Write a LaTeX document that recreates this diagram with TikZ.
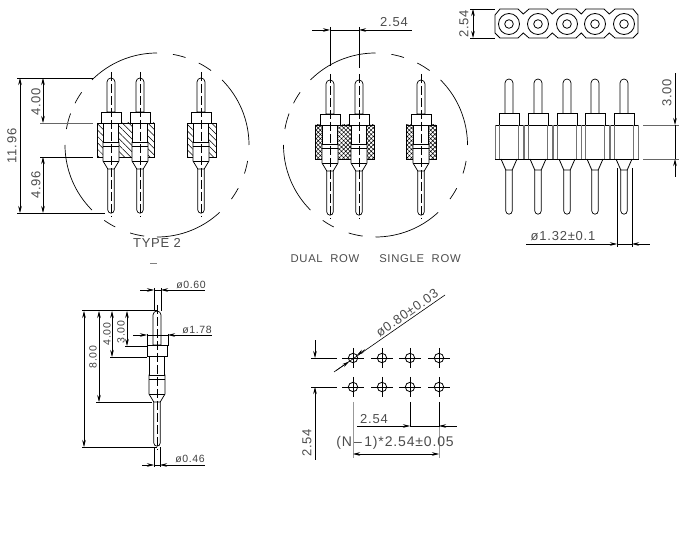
\documentclass[tikz,border=0pt]{standalone}
\usepackage{fontspec}
\setmainfont{Liberation Sans}
\newfontfamily\cadfont[LetterSpace=6]{Liberation Sans}
\usetikzlibrary{patterns.meta}
\usetikzlibrary{arrows.meta}

\tikzset{
  part/.style={line width=0.7pt, fill=white},
  housing/.style={line width=0.8pt},
  slanted/.style={pattern={Lines[angle=135, distance=4.5pt, line width=0.5pt]}},
  crossed/.style={pattern={Hatch[angle=45, distance=3pt, line width=0.5pt]}},
  axisline/.style={line width=0.5pt, dash pattern=on 9pt off 3pt},
  extline/.style={line width=0.6pt},
  dimline/.style={line width=0.6pt, >={Stealth[length=7pt,width=3.5pt]}},
  bigtext/.style={font=\cadfont\fontsize{13}{13}\selectfont, text=black!70, inner sep=0pt},
  rowtext/.style={font=\cadfont\fontsize{11.3}{12}\selectfont, text=black!70, inner sep=0pt},
  smalltext/.style={font=\cadfont\fontsize{10.5}{11}\selectfont, text=black!75, inner sep=0pt}
}

% side view of one pin, #1 = axis x, #2 = tip y
\newcommand{\sidepin}[2]{
  \begin{scope}[shift={(#1,#2)}]
    \draw[part] (-4,34) -- (-4,4) arc[start angle=180, end angle=0, radius=4pt] -- (4,34) -- cycle;
    \draw[part] (-3.2,90) -- (-3.2,132) arc[start angle=180, end angle=360, radius=3.2pt] -- (3.2,90) -- cycle;
    \draw[part] (-7.5,45) -- (-7.5,64) -- (-8,64) -- (-8,83) -- (-3.2,91) -- (3.2,91) -- (8,83) -- (8,64) -- (7.5,64) -- (7.5,45) -- cycle;
    \draw[line width=0.9pt] (-8,64) -- (8,64);
    \draw[line width=0.9pt] (-8,68.5) -- (8,68.5);
    \draw[line width=0.7pt] (-8,83) -- (8,83);
    \draw[part] (-10,34) rectangle (10,45);
    \draw[axisline] (0,-6) -- (0,139);
  \end{scope}
}

% front view of one pin, #1 = axis x
\newcommand{\frontpin}[1]{
  \begin{scope}[shift={(#1,79)}]
    \draw[part] (-4,34) -- (-4,4) arc[start angle=180, end angle=0, radius=4pt] -- (4,34);
    \draw[part] (-3.2,91) -- (-3.2,132) arc[start angle=180, end angle=360, radius=3.2pt] -- (3.2,91);
    \draw[part] (-10,34) rectangle (10,46);
    \draw[line width=0.6pt, black!55] (-9.5,46) -- (-9.5,80);
    \draw[line width=0.6pt, black!55] (9.5,46) -- (9.5,80);
    \draw[line width=0.8pt] (-8,80) -- (-3.2,91) -- (3.2,91) -- (8,80);
    \draw[line width=0.6pt, black!55] (-14,46) -- (-14,80);
    \draw[line width=0.6pt, black!55] (14,46) -- (14,80);
  \end{scope}
}

% broken circle round a side view
\newcommand{\brokencircle}[2]{
  \foreach \a/\b in {135/90, 80/72, 63/54, 45/0, -10/-18, -28/-36, -47/-90, -98/-107, -117/-125, -135/-180, 170/160, 153/145} {
    \draw[line width=0.7pt] ({#1+92*cos(\a)},{#2-92*sin(\a)}) arc[start angle=\a, end angle=\b, radius=92pt];
  }
}

\begin{document}
\begin{tikzpicture}[x=1pt, y=-1pt]
  \useasboundingbox (0,0) rectangle (689,548);

  % type 2 view
  \brokencircle{157}{145}
  \fill[slanted] (97,123) rectangle (154,157);
  \draw[housing] (97,123) rectangle (154,157);
  \fill[slanted] (187,123) rectangle (216,157);
  \draw[housing] (187,123) rectangle (216,157);
  \foreach \px in {111,140,201} {\sidepin{\px}{78}}

  \draw[extline] (17,78) -- (93,78);
  \draw[extline] (17,213) -- (105,213);
  \draw[extline, black!60] (40,123) -- (93,123);
  \draw[extline] (40,157) -- (93,157);
  \draw[dimline,<->] (20,78) -- (20,213);
  \draw[dimline,<->] (43,78) -- (43,123);
  \draw[dimline,<->] (43,157) -- (43,213);
  \node[bigtext, rotate=90] (lenall) at (12,146) {11.96};
  \node[bigtext, rotate=90] (lentop) at (36,102) {4.00};
  \node[bigtext, rotate=90] (lenlow) at (36,185) {4.96};
  \node[bigtext] (typetwo) at (157,243) {TYPE 2};
  \draw[line width=0.6pt, black!50] (150,263) -- (157,263);

  % dual and single row view
  \brokencircle{375.5}{145}
  \fill[crossed] (315,125) rectangle (374,159);
  \draw[housing] (315,125) rectangle (374,159);
  \fill[crossed] (406,125) rectangle (436,159);
  \draw[housing] (406,125) rectangle (436,159);
  \foreach \px in {330,359,421} {\sidepin{\px}{80}}

  \draw[extline] (330,27) -- (330,66);
  \draw[extline] (359,27) -- (359,68);
  \draw[extline] (330,30) -- (359,30);
  \draw[dimline,<-] (330,30) -- (312,30);
  \draw[dimline,<-] (359,30) -- (412,30);
  \node[bigtext] (pitchtop) at (394,22) {2.54};
  \node[rowtext] (dualrow) at (325,259) {DUAL\ \ ROW};
  \node[rowtext] (singlerow) at (420,259) {SINGLE\ \ ROW};

  % top view
  \draw[line width=0.8pt] (495,15) -- (500,9)
    -- (518,9) -- (523.3,14) -- (529,9) -- (547,9) -- (552.3,14) -- (558,9) -- (576,9) -- (581.3,14)
    -- (586,9) -- (604,9) -- (609.3,14) -- (615,9) -- (633,9) -- (638,15) -- (638,33) -- (633,38)
    -- (615,38) -- (609.3,33) -- (604,38) -- (586,38) -- (581.3,33) -- (576,38) -- (558,38)
    -- (552.3,33) -- (547,38) -- (529,38) -- (523.3,33) -- (518,38) -- (500,38) -- (495,33) -- cycle;
  \foreach \px in {509,538,567,595,624} {
    \draw[line width=0.8pt] (\px,24) circle[radius=10.5pt];
    \draw[line width=0.8pt] (\px,24) circle[radius=4.3pt];
  }
  \draw[extline] (470,9) -- (495,9);
  \draw[extline] (470,38) -- (495,38);
  \draw[dimline,<->] (473,9) -- (473,38);
  \node[bigtext, rotate=90] (pitchend) at (464,24) {2.54};

  % front view
  \draw[housing] (495,125) rectangle (638,159);
  \foreach \px in {509,538,567,595,624} {\frontpin{\px}}
  \draw[extline, black!60] (643,125) -- (679,125);
  \draw[extline, black!60] (643,159) -- (679,159);
  \draw[extline] (675,125) -- (675,159);
  \draw[dimline,<-] (675,125) -- (675,73);
  \draw[dimline,<-] (675,159) -- (675,177);
  \node[bigtext, rotate=90] (heightfront) at (667,93) {3.00};
  \draw[extline] (617,168) -- (617,247);
  \draw[extline] (632,168) -- (632,247);
  \draw[extline] (617,244) -- (632,244);
  \draw[dimline,<-] (617,244) -- (526,244);
  \draw[dimline,<-] (632,244) -- (650,244);
  \node[bigtext] (diafront) at (563,236) {ø1.32±0.1};

  % single pin
  \sidepin{157}{311}
  \draw[line width=1pt] (82,311) -- (157,311);
  \draw[extline] (82,447) -- (157,447);
  \draw[extline] (96,402) -- (152,402);
  \draw[extline] (110,357) -- (147,357);
  \draw[extline] (125,346) -- (147,346);
  \draw[dimline,<->] (84,311) -- (84,447);
  \draw[dimline,<->] (99,311) -- (99,402);
  \draw[dimline,<->] (112,311) -- (112,357);
  \draw[dimline,<->] (127,311) -- (127,346);
  \node[smalltext, rotate=90] (leneight) at (93,357) {8.00};
  \node[smalltext, rotate=90] (lenfour) at (107,334) {4.00};
  \node[smalltext, rotate=90] (lenthree) at (121,332) {3.00};

  \draw[extline] (154,288) -- (154,311);
  \draw[extline] (161,288) -- (161,311);
  \draw[extline] (154,290) -- (161,290);
  \draw[dimline,<-] (154,290) -- (140,290);
  \draw[dimline,<-] (161,290) -- (205,290);
  \node[smalltext] (diatop) at (191,285) {ø0.60};
  \draw[extline] (147,334) -- (147,346);
  \draw[extline] (168,334) -- (168,346);
  \draw[extline] (147,335) -- (168,335);
  \draw[dimline,<-] (147,335) -- (133,335);
  \draw[dimline,<-] (168,335) -- (212,335);
  \node[smalltext] (diamid) at (197,330) {ø1.78};
  \draw[extline] (154,447) -- (154,467);
  \draw[extline] (160,447) -- (160,467);
  \draw[extline] (154,465) -- (160,465);
  \draw[dimline,<-] (154,465) -- (142,465);
  \draw[dimline,<-] (160,465) -- (205,465);
  \node[smalltext] (dialow) at (190,459) {ø0.46};

  % hole pattern
  \foreach \hy in {358,387} {
    \draw[extline] (311,\hy) -- (337,\hy);
    \foreach \hx in {353,382,410,439} {
      \draw[line width=0.8pt] (\hx,\hy) circle[radius=4.7pt];
      \draw[extline] (\hx-11,\hy) -- (\hx+11,\hy);
      \draw[extline] (\hx,\hy-10) -- (\hx,\hy+10);
    }
  }
  \draw[dimline,<-] (315,358) -- (315,340);
  \draw[dimline,<-] (315,387) -- (315,460);
  \node[bigtext, rotate=90] (pitchrow) at (307,443) {2.54};
  \draw[extline] (334,372) -- (445,295);
  \draw[dimline,<-] (349,361.6) -- (336,370.6);
  \draw[dimline,<-] (357,355.2) -- (365,349.6);
  \node[bigtext, rotate=35] (diahole) at (407,313) {ø0.80±0.03};
  \draw[line width=1pt, black!40] (353,402) -- (353,458);
  \draw[extline] (410,402) -- (410,427);
  \draw[extline] (439,402) -- (439,427);
  \draw[line width=1pt, black!40] (439,427) -- (439,458);
  \draw[extline] (410,426) -- (439,426);
  \draw[dimline,<-] (410,426) -- (357,426);
  \draw[dimline,<-] (439,426) -- (457,426);
  \node[bigtext] (pitchcol) at (374,419) {2.54};
  \draw[dimline,<->] (353,454) -- (439,454);
  \node[bigtext, font=\cadfont\fontsize{14}{14}\selectfont] (pitchall) at (395,443) {(N\,–\,1)*2.54±0.05};
\end{tikzpicture}
\end{document}
